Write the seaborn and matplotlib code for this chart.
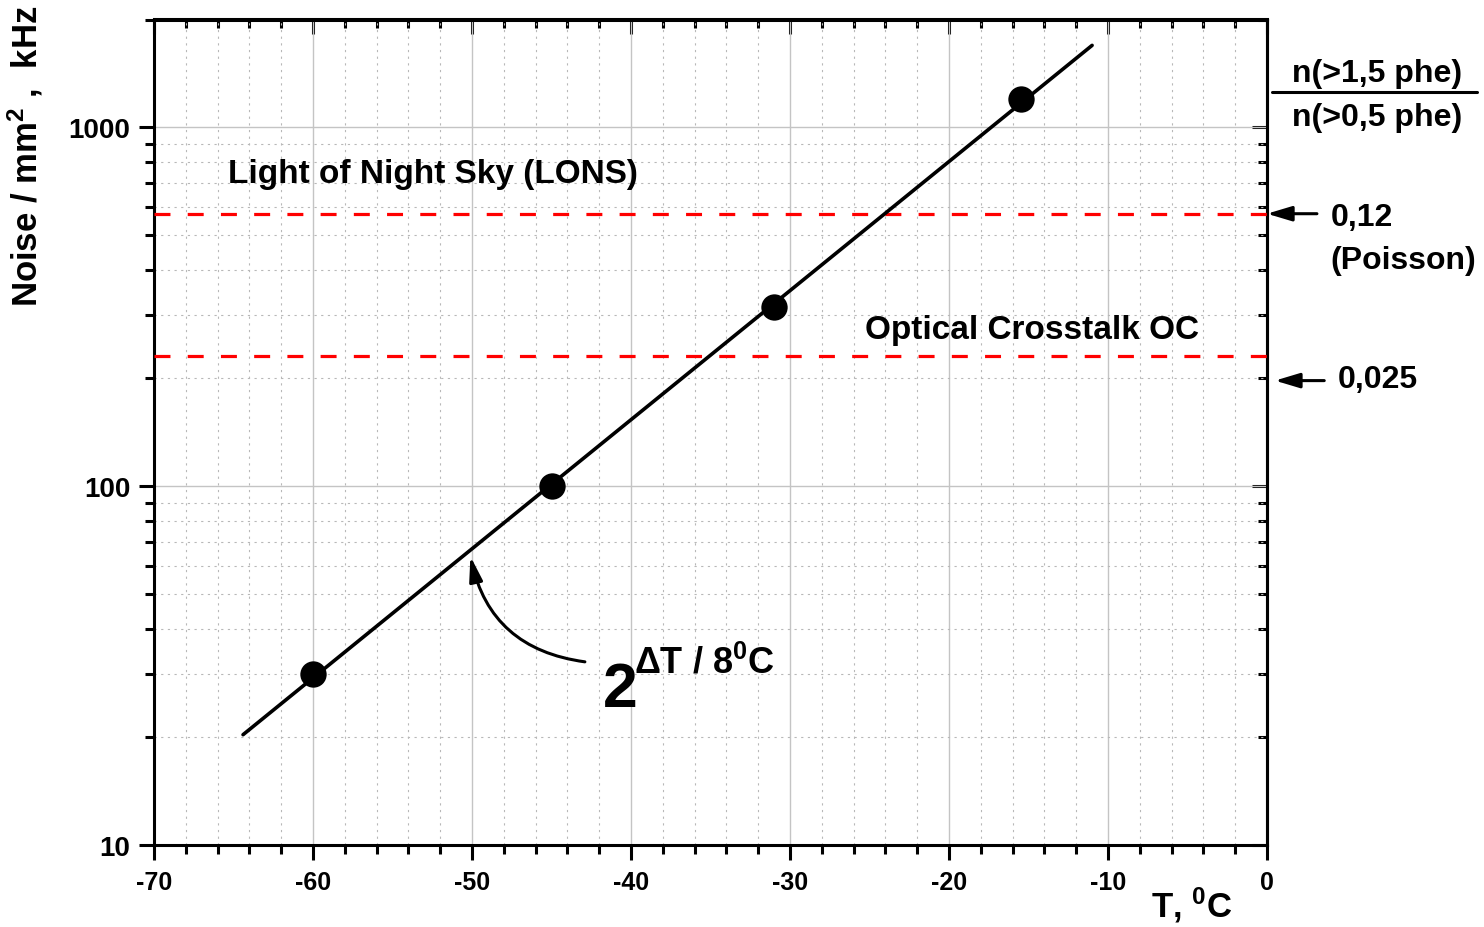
import matplotlib
matplotlib.use("Agg")
import matplotlib.pyplot as plt
from matplotlib.lines import Line2D
from matplotlib.ticker import (MultipleLocator, FixedLocator, LogLocator,
                               StrMethodFormatter, NullFormatter)
import pandas as pd
import seaborn as sns

# Measured dark-count rate per mm^2 versus temperature
temp_c = [-60.0, -45.0, -31.0, -15.5]
noise_khz = [30.0, 100.0, 315.0, 1200.0]

# Exponential trend (doubling every 8 degC), straight on the log axis
fit_temp = [-64.4, -11.0]
fit_noise = [20.3, 1694.0]

# Reference levels (kHz / mm^2)
lons_level = 575.0
oc_level = 230.0
ratio_arrow_levels = [575.0, 197.0]
ratio_labels = ["0,12", "0,025"]

x_ticks = [-70, -60, -50, -40, -30, -20, -10, 0]
y_ticks = [10, 100, 1000]

sns.set_style("white")
plt.rcParams.update({
    "font.family": ["Liberation Sans", "DejaVu Sans"],
    "font.weight": "bold",
    "mathtext.default": "regular",
    "axes.linewidth": 2.2,
    "axes.edgecolor": "black",
    "axes.unicode_minus": False,
    "text.color": "black",
    "axes.labelcolor": "black",
    "xtick.color": "black",
    "ytick.color": "black",
    "xtick.bottom": True,
    "ytick.left": True,
})

W, H = 1484, 928
fig = plt.figure(figsize=(W / 100, H / 100), dpi=100)
ax = fig.add_axes([154 / W, 1 - 846 / H, (1267 - 154) / W, (846 - 20.5) / H])
ax.set_yscale("log")

df_pts = pd.DataFrame({"T": temp_c, "N": noise_khz})
df_fit = pd.DataFrame({"T": fit_temp, "N": fit_noise})

sns.lineplot(data=df_fit, x="T", y="N", ax=ax, color="black", lw=2.6, zorder=4)
sns.scatterplot(data=df_pts, x="T", y="N", ax=ax, color="black", s=360,
                linewidth=0, zorder=5)

for lvl in (lons_level, oc_level):
    ax.axhline(lvl, color="#ff0000", lw=2.3, dashes=(5.0, 5.4), zorder=3)

ax.set_xlim(x_ticks[0], x_ticks[-1])
ax.set_ylim(10, 2000)
ax.set_xlabel("")
ax.set_ylabel("")

ax.xaxis.set_major_locator(FixedLocator(x_ticks))
ax.xaxis.set_minor_locator(MultipleLocator(2))
ax.yaxis.set_major_locator(FixedLocator(y_ticks))
ax.yaxis.set_minor_locator(LogLocator(base=10, subs=range(2, 10)))
ax.xaxis.set_major_formatter(StrMethodFormatter("{x:.0f}"))
ax.yaxis.set_major_formatter(StrMethodFormatter("{x:.0f}"))
ax.yaxis.set_minor_formatter(NullFormatter())

ax.grid(which="major", color="#c4c4c4", lw=1.0, ls="-", zorder=0)
ax.grid(which="minor", color="#b8b8b8", lw=0.8, ls=(0, (2.0, 4.0)), zorder=0)
ax.set_axisbelow(True)

ax.tick_params(which="both", bottom=True, left=True, top=False, right=False)
ax.tick_params(which="major", direction="out", length=11, width=2.2,
               labelsize=18, pad=7, colors="black")
ax.tick_params(which="minor", direction="out", length=6.5, width=2.2, colors="black")
ax.tick_params(axis="y", labelsize=20, pad=6)

# Mirrored axes on top and right with inward ticks
sec_x = ax.secondary_xaxis("top")
sec_x.xaxis.set_major_locator(FixedLocator(x_ticks))
sec_x.xaxis.set_minor_locator(MultipleLocator(2))
sec_x.tick_params(which="both", top=True, colors="black")
sec_x.tick_params(which="major", direction="in", length=11, width=2.2, labeltop=False)
sec_x.tick_params(which="minor", direction="in", length=6.5, width=2.2)

sec_y = ax.secondary_yaxis("right")
sec_y.yaxis.set_major_locator(FixedLocator(y_ticks))
sec_y.yaxis.set_minor_locator(LogLocator(base=10, subs=range(2, 10)))
sec_y.tick_params(which="both", right=True, colors="black")
sec_y.tick_params(which="major", direction="in", length=11, width=2.2, labelright=False)
sec_y.tick_params(which="minor", direction="in", length=6.5, width=2.2, labelright=False)

# In-plot labels
ax.text(-65.35, 746, "Light of Night Sky (LONS)", fontsize=24, va="center", ha="left")
ax.text(-25.3, 274, "Optical Crosstalk OC", fontsize=24, va="center", ha="left")

ax.text(-41.8, 24.4, "2", fontsize=45, va="baseline", ha="left")
ax.text(-39.8, 30.3, r"$\Delta$T / 8$^0$C", fontsize=26, va="baseline", ha="left")
ax.annotate("", xy=(-50.1, 63.8), xytext=(-42.9, 32.4),
            arrowprops=dict(arrowstyle="-|>,head_length=1.5,head_width=0.4",
                            color="black", lw=2.2, shrinkA=0, shrinkB=0,
                            connectionstyle="arc3,rad=-0.35"))

# Arrows on the right pointing at the ratio levels
for lvl, tip, tail in zip(ratio_arrow_levels, [0.0, 0.5], [3.14, 3.6]):
    ax.annotate("", xy=(tip, lvl), xytext=(tail, lvl), annotation_clip=False,
                arrowprops=dict(arrowstyle="-|>,head_length=1.5,head_width=0.45",
                                color="black", lw=2.2, shrinkA=0, shrinkB=0))

fig.text(1331 / W, 1 - 218 / H, ratio_labels[0], fontsize=23, va="center", ha="left")
fig.text(1330 / W, 1 - 261 / H, "(Poisson)", fontsize=23, va="center", ha="left")
fig.text(1338 / W, 1 - 380 / H, ratio_labels[1], fontsize=23, va="center", ha="left")

fig.text(1377 / W, 1 - 74 / H, "n(>1,5 phe)", fontsize=23, va="center", ha="center")
fig.text(1377 / W, 1 - 118 / H, "n(>0,5 phe)", fontsize=23, va="center", ha="center")
fig.add_artist(Line2D([1272 / W, 1477 / W], [1 - 92.7 / H] * 2,
                      transform=fig.transFigure, color="black", lw=2.2))

# Axis titles
fig.text(25 / W, 1 - 156 / H, "Noise / mm$^2$ ,  kHz", rotation=90,
         fontsize=25, va="center", ha="center")
fig.text(1192 / W, 1 - 905 / H, "T, $^0$C", fontsize=25, va="center", ha="center")

fig.savefig("out.png", dpi=100)
